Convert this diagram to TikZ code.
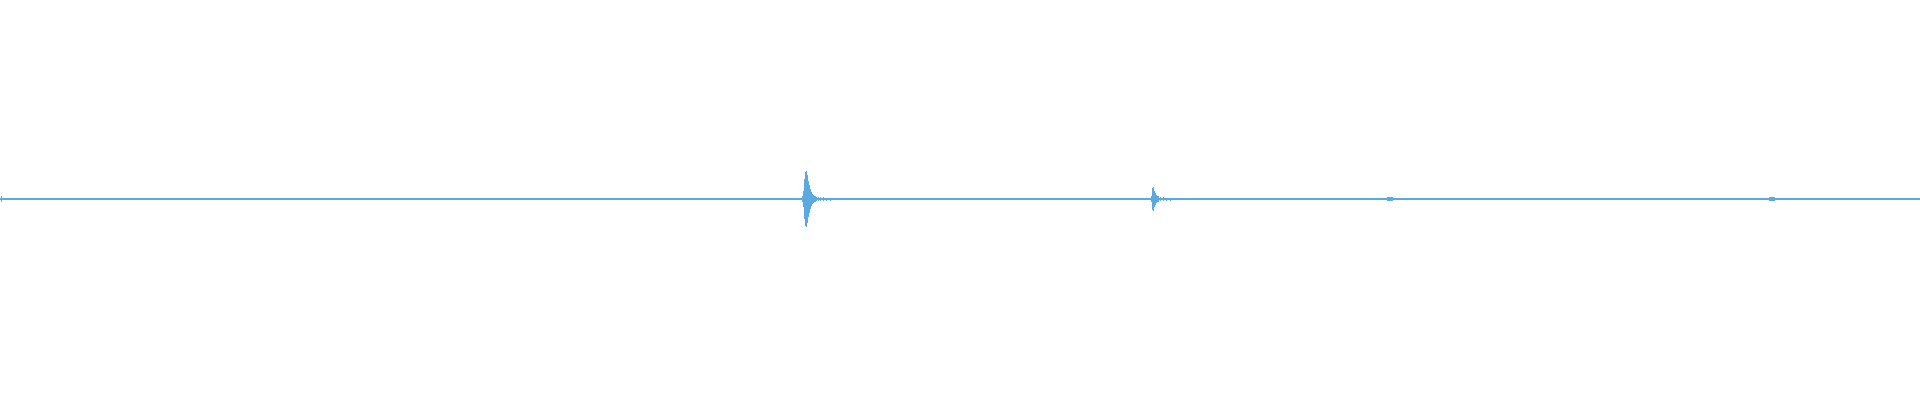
\documentclass[tikz,border=0pt]{standalone}
\definecolor{wave}{HTML}{5AA9E0}
\begin{document}
\begin{tikzpicture}[x=1pt,y=-1pt,wv/.style={draw=wave,line width=1pt}]
\useasboundingbox (0,0) rectangle (1920,400);
\draw[wv,line width=1.3pt] (0,199) -- (1920,199);
\draw[wv] (1,196) -- (1,202);
% spike 1
\foreach \x/\a in {802/3,803/8,804/20,805/27,806/28,807/24,808/18,809/14,810/10,811/7,812/5,813/4,814/3,815/3,816/2,818/2,820/2,823/2,826/1.5,830/1.5}{
  \draw[wv] (\x,199-\a) -- (\x,199+\a);}
% spike 2
\foreach \x/\a in {1151/3,1152/11,1153/12,1154/8,1155/6,1156/4,1157/3,1158/3,1160/2,1163/2,1166/1.5,1170/1.5}{
  \draw[wv] (\x,199-\a) -- (\x,199+\a);}
\foreach \x in {1390,1772}{\draw[wv] (\x-3,199-1.5) -- (\x+3,199-1.5) (\x-3,199+1.5) -- (\x+3,199+1.5);}
\end{tikzpicture}
\end{document}
